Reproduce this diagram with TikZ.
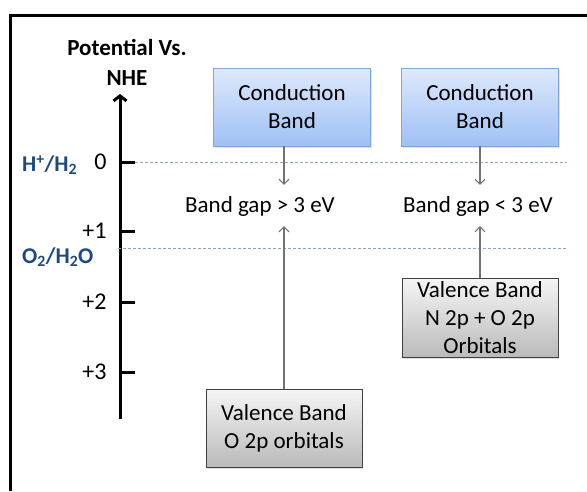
\documentclass[tikz,border=0pt]{standalone}
\usepackage{fontspec}
\setmainfont{Carlito}
\usepackage{tikz}
\usetikzlibrary{arrows.meta}
\usetikzlibrary{positioning,calc}
\usetikzlibrary{shadows}
\definecolor{redoxblue}{RGB}{31,73,125}
\definecolor{levelblue}{RGB}{140,165,200}
\definecolor{cbtop}{RGB}{222,233,252}
\definecolor{cbbottom}{RGB}{160,192,245}
\definecolor{cbedge}{RGB}{130,165,220}
\tikzset{
	cband/.style={draw=cbedge, top color=cbtop, bottom color=cbbottom,
		minimum width=157pt, minimum height=78pt, align=center, font=\fontsize{23}{28}\selectfont,
		drop shadow={shadow xshift=1pt, shadow yshift=-1.5pt, opacity=0.25}},
	vband/.style={draw=black!75, top color=black!4, bottom color=black!27,
		minimum width=156pt, minimum height=78pt, align=center, font=\fontsize{23}{28}\selectfont,
		drop shadow={shadow xshift=1pt, shadow yshift=-1.5pt, opacity=0.25}},
	gaplabel/.style={font=\fontsize{23}{28}\selectfont, inner sep=0pt},
	transfer/.style={draw=black!55, line width=1.1pt, -{Straight Barb[length=5pt,width=10pt]}},
	level/.style={draw=levelblue, line width=1pt, dash pattern=on 3pt off 2pt},
	tick/.style={line width=3pt},
	ticklabel/.style={anchor=east, font=\fontsize{24}{28}\selectfont},
	couple/.style={anchor=west, text=redoxblue, font=\bfseries\fontsize{22.5}{26}\selectfont, inner sep=0pt},
}

\begin{document}
\begin{tikzpicture}[x=1pt, y=-1pt]
\useasboundingbox (0,0) rectangle (587,491);
\fill[white] (0,0) rectangle (587,491);

% frame
\draw[line width=3pt] (10,491) -- (10,15) -- (587,15);

% potential axis
\coordinate (axbot) at (120,419);
\coordinate (axtop) at (120,94);
\draw[line width=3pt, -{Straight Barb[length=5pt,width=13pt]}] (axbot) -- (axtop);
\node[font=\bfseries\fontsize{23}{30}\selectfont, align=center] (axtitle) at (127,62) {Potential Vs.\\NHE};

\foreach \v/\lbl/\y in {0/0/162, 1/+1/231, 2/+2/302, 3/+3/372} {
	\coordinate (t\v) at (120,\y);
	\draw[tick] (t\v) -- ++(15,0);
	\node[ticklabel] (l\v) at (110,\y) {\lbl};
}

\node[couple] (hred) at (22,165) {H\textsuperscript{+}/H\textsubscript{2}};
\node[couple] (ored) at (22,257) {O\textsubscript{2}/H\textsubscript{2}O};

% redox levels
\coordinate (hend) at (567,162);
\coordinate (oend) at (567,248);
\draw[level] (135,162) -- (hend);
\draw[level] (118,248) -- (oend);

% wide gap material
\node[cband] (cb1) at (292,107) {Conduction\\Band};
\node[gaplabel] (gap1) at (260,206) {Band gap > 3 eV};
\node[vband] (vb1) at (284,428) {Valence Band\\O 2p orbitals};
\draw[transfer] (cb1.south -| vb1.north) -- ($(vb1.north |- gap1.north)+(0,-11)$);
\draw[transfer] (vb1.north) -- ($(vb1.north |- gap1.south)+(0,10)$);

% narrow gap material
\node[cband] (cb2) at (480,107) {Conduction\\Band};
\node[gaplabel] (gap2) at (478,206) {Band gap < 3 eV};
\node[vband] (vb2) at (480,318) {Valence Band\\N 2p + O 2p\\Orbitals};
\draw[transfer] (cb2.south) -- ($(cb2.south |- gap2.north)+(0,-11)$);
\draw[transfer] (vb2.north) -- ($(vb2.north |- gap2.south)+(0,10)$);
\end{tikzpicture}
\end{document}
